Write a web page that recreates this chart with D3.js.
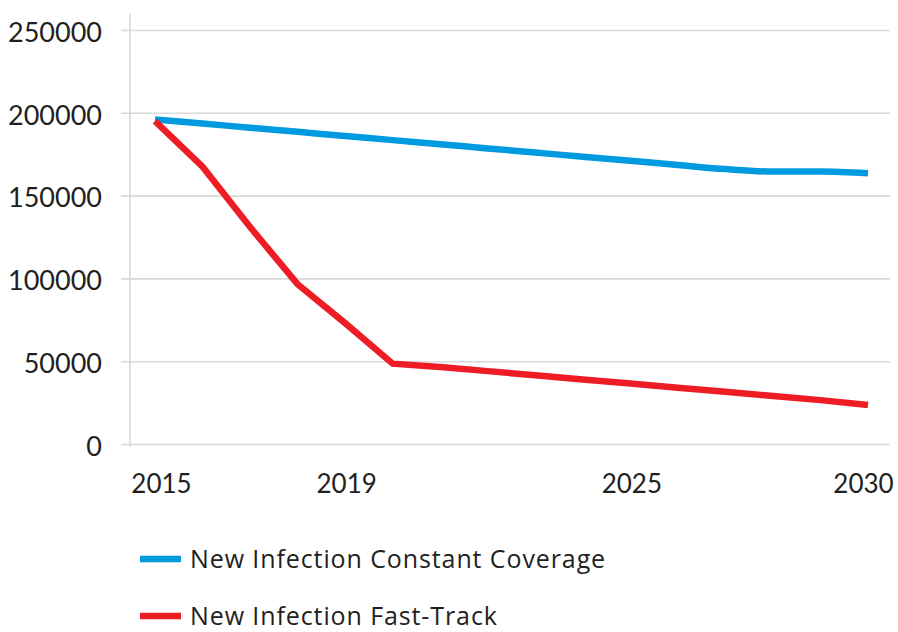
<!DOCTYPE html>
<html>
<head>
<meta charset="utf-8">
<script src="https://cdn.jsdelivr.net/npm/d3@7"></script>
<style>
  html, body { margin: 0; padding: 0; background: #ffffff; }
  svg { display: block; }
  text { font-family: Lato, "Open Sans", sans-serif; fill: #231f20; }
</style>
</head>
<body>
<svg id="chart" width="898" height="632"></svg>
<script>
// ---- data ----
const years = [2015, 2016, 2017, 2018, 2019, 2020, 2021, 2022, 2023, 2024, 2025, 2026, 2027, 2028, 2029, 2030];
const constantCoverage = [196000, 193500, 191000, 188500, 186000, 183500, 181000, 178500, 176000, 173500, 171000, 168500, 166000, 164500, 164500, 163500];
const fastTrack = [195000, 167500, 131000, 96500, 73000, 48500, 46500, 44000, 41500, 39000, 36500, 34000, 31500, 29000, 26500, 23500];
const xTickValues = [2015, 2019, 2025, 2030];
const yTickValues = [0, 50000, 100000, 150000, 200000, 250000];
const seriesNames = ["New Infection Constant Coverage", "New Infection Fast-Track"];
const seriesColors = ["#009bde", "#ee1c25"];

// ---- chart ----
const svg = d3.select("#chart");
const x = d3.scaleLinear().domain([2015, 2030]).range([155, 868]);
const y = d3.scaleLinear().domain([0, 250000]).range([444, 30]);

// gridlines + y labels
const yAxis = d3.axisLeft(y)
  .tickValues(yTickValues)
  .tickSize(-(890 - 130))
  .tickFormat(d3.format("d"))
  .tickPadding(28);

const gy = svg.append("g").attr("transform", "translate(130,0)").call(yAxis);
gy.select(".domain").remove();
gy.selectAll(".tick line")
  .attr("x1", -9)
  .attr("stroke", "#d9d9d9")
  .attr("stroke-width", 1.6);
gy.selectAll(".tick text")
  .attr("font-size", 27)
  .attr("fill", "#231f20")
  .attr("dy", "0.42em");

// vertical axis line
svg.append("line")
  .attr("x1", 130).attr("x2", 130)
  .attr("y1", y(250000) - 16).attr("y2", y(0) + 3)
  .attr("stroke", "#d9d9d9").attr("stroke-width", 1.6);

// x labels
const xAxis = d3.axisBottom(x)
  .tickValues(xTickValues)
  .tickSize(0)
  .tickFormat(d3.format("d"))
  .tickPadding(31);
const gx = svg.append("g").attr("transform", `translate(0,${y(0)})`).call(xAxis);
gx.select(".domain").remove();
gx.selectAll(".tick text")
  .attr("font-size", 26)
  .attr("fill", "#231f20")
  .attr("dx", d => d === 2015 ? 6 : (d === 2030 ? -5 : 1));

// lines
const blueData = years.map((yr, i) => ({ x: yr, v: constantCoverage[i] }));
const redData = years.map((yr, i) => ({ x: yr, v: fastTrack[i] }));

const lineSmooth = d3.line().x(d => x(d.x)).y(d => y(d.v)).curve(d3.curveMonotoneX);
const lineStraight = d3.line().x(d => x(d.x)).y(d => y(d.v)).curve(d3.curveLinear);

svg.append("path")
  .datum(blueData)
  .attr("d", lineSmooth)
  .attr("fill", "none")
  .attr("stroke", seriesColors[0])
  .attr("stroke-width", 6.5)
  .attr("stroke-linejoin", "round");

svg.append("path")
  .datum(redData)
  .attr("d", lineStraight)
  .attr("fill", "none")
  .attr("stroke", seriesColors[1])
  .attr("stroke-width", 6.5)
  .attr("stroke-linejoin", "miter");

// legend
const legend = svg.append("g").attr("transform", "translate(140,559)");
seriesNames.forEach((name, i) => {
  const g = legend.append("g").attr("transform", `translate(0,${i * 57})`);
  g.append("line")
    .attr("x1", 0).attr("x2", 41)
    .attr("y1", 0).attr("y2", 0)
    .attr("stroke", seriesColors[i])
    .attr("stroke-width", 6.5);
  g.append("text")
    .attr("x", 50)
    .attr("y", 0)
    .attr("dy", "0.35em")
    .attr("font-size", 25)
    .attr("letter-spacing", 0.9)
    .style("font-family", "'Open Sans', Lato, sans-serif")
    .text(name);
});
</script>
</body>
</html>
